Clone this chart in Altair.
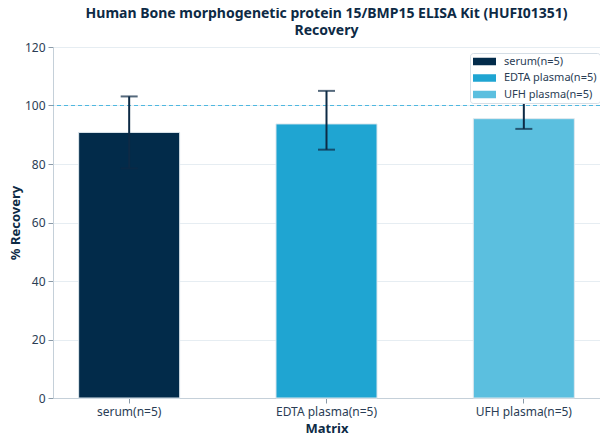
import altair as alt
import pandas as pd

categories = ["serum(n=5)", "EDTA plasma(n=5)", "UFH plasma(n=5)"]
means = [90.8, 93.7, 95.5]
upper = [103.1, 105.0, 100.9]
lower = [78.5, 84.9, 92.0]
colors = ["#022b4a", "#1fa5d2", "#5bbfdf"]

df = pd.DataFrame({"Matrix": categories, "mean": means, "hi": upper, "lo": lower})
ref = pd.DataFrame({"y": [100]})

FONT = "Noto Sans"
TXT = "#2a3d55"

xenc = alt.X("Matrix:N", sort=categories, title="Matrix",
             scale=alt.Scale(paddingInner=0.488, paddingOuter=0.13),
             axis=alt.Axis(labelAngle=0, grid=False))
yscale = alt.Scale(domain=[0, 120], nice=False)

bars = alt.Chart(df).mark_bar(stroke="#dfe8ee", strokeWidth=1).encode(
    x=xenc,
    y=alt.Y("mean:Q", scale=yscale, title="% Recovery",
            axis=alt.Axis(values=[0, 20, 40, 60, 80, 100, 120])),
    color=alt.Color("Matrix:N", sort=categories,
                    scale=alt.Scale(domain=categories, range=colors),
                    legend=alt.Legend(title=None, orient="none", legendX=417, legendY=6,
                                      symbolType="M-2.3,-0.75L2.3,-0.75L2.3,0.75L-2.3,0.75Z",
                                      symbolSize=100, symbolStrokeWidth=0,
                                      symbolOffset=6,
                                      labelFontSize=11, labelFont=FONT, labelColor=TXT,
                                      labelOffset=14,
                                      fillColor="white", strokeColor="#d5dee6",
                                      padding=3, rowPadding=4.5, cornerRadius=3)),
)

hline = alt.Chart(ref).mark_rule(color="#4fb8e0", strokeDash=[4, 3], strokeWidth=1).encode(
    y=alt.Y("y:Q", scale=yscale)
)

err = alt.Chart(df).mark_rule(color="#0d2a45", strokeWidth=2).encode(
    x=alt.X("Matrix:N", sort=categories),
    y=alt.Y("lo:Q", scale=yscale),
    y2="hi:Q",
)
cap_hi = alt.Chart(df).mark_tick(color="#0d2a45", thickness=2, size=17, orient="horizontal").encode(
    x=alt.X("Matrix:N", sort=categories),
    y=alt.Y("hi:Q", scale=yscale),
)
cap_lo = alt.Chart(df).mark_tick(color="#0d2a45", thickness=2, size=17, orient="horizontal").encode(
    x=alt.X("Matrix:N", sort=categories),
    y=alt.Y("lo:Q", scale=yscale),
)

chart = alt.layer(bars, hline, err, cap_hi, cap_lo).properties(
    width=547, height=351,
    title=alt.TitleParams(
        ["Human Bone morphogenetic protein 15/BMP15 ELISA Kit (HUFI01351)", "Recovery"],
        anchor="middle", frame="group", fontSize=14, font=FONT, fontWeight="bold",
        color="#0d2a45", offset=3, lineHeight=17),
    autosize=alt.AutoSizeParams(type="none"),
    padding={"left": 45, "top": 39, "right": 0, "bottom": 38},
).configure_view(stroke=None).configure_axis(
    labelFont=FONT, titleFont=FONT, labelFontSize=12, titleFontSize=13,
    labelColor=TXT, titleColor="#0d2a45", titleFontWeight="bold",
    domainColor="#c5d0d9", tickColor="#8a9aa8", gridColor="#e6edf2", gridWidth=1.2,
    tickSize=5, labelPadding=3,
).configure_axisY(titlePadding=2).configure_axisX(titlePadding=5)

chart.save("out.html", embed_options={"renderer": "svg", "actions": False})
